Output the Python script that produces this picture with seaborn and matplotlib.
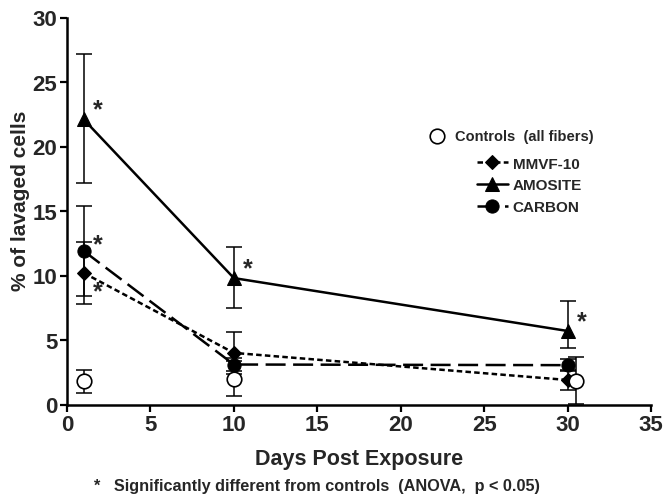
import numpy as np
import pandas as pd
import matplotlib
matplotlib.use("Agg")
import matplotlib.pyplot as plt
import seaborn as sns

# ---- data ----
days = [1, 10, 30]
control_days = [1, 10, 30.5]
controls = [1.8, 2.0, 1.85]
controls_err = [0.9, 1.35, 1.8]
mmvf = [10.2, 4.0, 1.9]
mmvf_err = [2.4, 1.6, 0.75]
amosite = [22.1, 9.8, 5.7]
amosite_err_lo = [4.9, 2.3, 1.35]
amosite_err_hi = [5.1, 2.4, 2.35]
carbon = [11.9, 3.1, 3.05]
carbon_err = [3.5, 0.5, 0.45]
xticks = [0, 5, 10, 15, 20, 25, 30, 35]
yticks = [0, 5, 10, 15, 20, 25, 30]

sns.set_theme(style="ticks")
plt.rcParams['font.family'] = ['Liberation Sans', 'DejaVu Sans']
plt.rcParams['font.weight'] = 'bold'

fig = plt.figure(figsize=(6.64, 5.02), dpi=100)
ax = fig.add_axes([67/664, 1-405.5/502, (651-67)/664, (405.5-18.5)/502])

# error bars
ekw = dict(fmt='none', ecolor='black', elinewidth=1.1, capsize=6, capthick=1.1, zorder=2)
ax.errorbar(control_days, controls, yerr=controls_err, **ekw)
ax.errorbar(days, mmvf, yerr=mmvf_err, **ekw)
ax.errorbar(days, amosite, yerr=[amosite_err_lo, amosite_err_hi], **ekw)
ax.errorbar(days, carbon, yerr=carbon_err, **ekw)

# lines
sns.lineplot(x=days, y=mmvf, ax=ax, color='black', linewidth=1.8,
             linestyle=(0, (2.2, 1.3)), marker='D', markersize=7.5,
             markeredgecolor='black', label='MMVF-10', zorder=3)
sns.lineplot(x=days, y=amosite, ax=ax, color='black', linewidth=1.8,
             linestyle='-', marker='^', markersize=10,
             markeredgecolor='black', label='AMOSITE', zorder=3)
sns.lineplot(x=days, y=carbon, ax=ax, color='black', linewidth=1.8,
             linestyle=(0, (8, 3)), marker='o', markersize=9.5,
             markeredgecolor='black', label='CARBON', zorder=3)
sns.scatterplot(x=control_days, y=controls, ax=ax, marker='o', s=110,
                facecolor='white', edgecolor='black', linewidth=1.2,
                label='Controls  (all fibers)', zorder=4)

# significance stars
star_pts = [(days[0], amosite[0], 10, 7), (days[0], carbon[0], 10, 5),
            (days[0], mmvf[0], 10, -13), (days[1], amosite[1], 10, 7),
            (days[2], amosite[2], 10, 7)]
for x, y, dx, dy in star_pts:
    ax.annotate('*', (x, y), xytext=(dx, dy), textcoords='offset points',
                fontsize=18, fontweight='bold', ha='center', va='center')

ax.set_xlim(0, 35)
ax.set_ylim(0, 30)
ax.set_xticks(xticks)
ax.set_xticklabels([str(t) for t in xticks], fontsize=16, fontweight='bold')
ax.set_yticks(yticks)
ax.set_yticklabels([str(t) for t in yticks], fontsize=16, fontweight='bold')
ax.tick_params(axis='both', width=1.6, length=5, direction='out', color='black', pad=2)
for s in ['top', 'right']:
    ax.spines[s].set_visible(False)
for s in ['left', 'bottom']:
    ax.spines[s].set_linewidth(1.8)
    ax.spines[s].set_color('black')

ax.set_xlabel('Days Post Exposure', fontsize=15.5, fontweight='bold', labelpad=9)
ax.set_ylabel('% of lavaged cells', fontsize=15, fontweight='bold')
ax.yaxis.set_label_coords(-0.063, 0.53)

handles, labels = ax.get_legend_handles_labels()
hmap = dict(zip(labels, handles))
leg1 = ax.legend([hmap['Controls  (all fibers)']], ['Controls  (all fibers)'],
                 loc='upper left', bbox_to_anchor=(0.6216, 0.712), frameon=False,
                 borderpad=0, borderaxespad=0, handlelength=1.0, handletextpad=0.7,
                 prop={'size': 10.5, 'weight': 'bold'})
ax.add_artist(leg1)
ax.legend([hmap['MMVF-10'], hmap['AMOSITE'], hmap['CARBON']],
          ['MMVF-10', 'AMOSITE', 'CARBON'],
          loc='upper left', bbox_to_anchor=(0.702, 0.640), frameon=False,
          borderpad=0, borderaxespad=0, handlelength=2.0, handletextpad=0.35,
          labelspacing=0.5, prop={'size': 11, 'weight': 'bold'})

fig.text(0.478, 0.030, '*   Significantly different from controls  (ANOVA,  p < 0.05)',
         ha='center', va='center', fontsize=11.7, fontweight='bold')

fig.savefig('out.png', dpi=100)
